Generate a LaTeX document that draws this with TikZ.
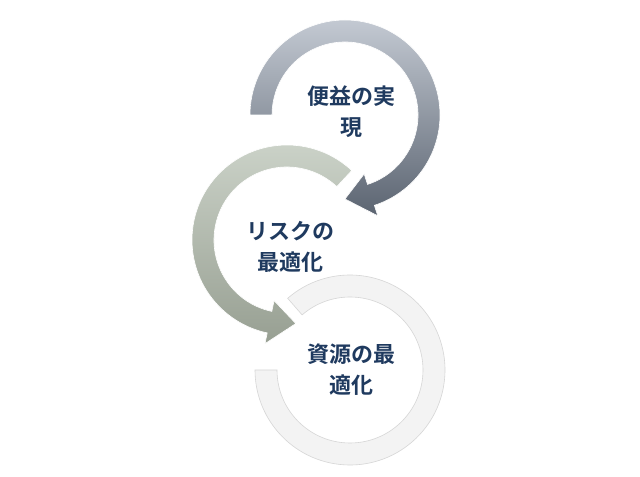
\documentclass[tikz,border=0pt]{standalone}
\usepackage{fontspec}
\newfontfamily\cjk{Noto Sans CJK JP}[BoldFont={Noto Sans CJK JP Bold}]
\definecolor{txt}{HTML}{1F3A5F}
\definecolor{aTop}{HTML}{C3C9D2}
\definecolor{aBot}{HTML}{5B6471}
\definecolor{bTop}{HTML}{CDD4CA}
\definecolor{bBot}{HTML}{979F92}
\definecolor{cFill}{HTML}{F3F3F3}
\definecolor{cEdge}{HTML}{D6D6D6}
\tikzset{lbl/.style={font=\cjk\bfseries\fontsize{22}{31}\selectfont, text=txt, align=center}}
% #1 center name, #2 start, #3 end (base), #4 tip angle, #5 style
\newcommand{\myring}[5]{%
  \path[#5] ([shift={(#2:95pt)}]#1) arc[start angle=#2, end angle=#3, radius=95pt]
    -- ([shift={(#3:106pt)}]#1) -- ([shift={(#4:84pt)}]#1) -- ([shift={(#3:62pt)}]#1)
    -- ([shift={(#3:73pt)}]#1) arc[start angle=#3, end angle=#2, radius=73pt] -- cycle;}
\begin{document}
\begin{tikzpicture}[x=1pt,y=1pt]
\fill[white] (0,0) rectangle (640,474);
\coordinate (c1) at (345,359);
\coordinate (c2) at (287,234);
\coordinate (c3) at (350,104);
% ring 3
\path[fill=cFill, draw=cEdge, line width=0.6pt]
  ([shift={(131:95pt)}]c3) arc[start angle=131, end angle=-180, radius=95pt]
  -- ([shift={(180:73pt)}]c3) arc[start angle=-180, end angle=131, radius=73pt] -- cycle;
% ring 2
\myring{c2}{47}{258}{276}{top color=bTop, bottom color=bBot, draw=white, line width=0.6pt}
% ring 1
\myring{c1}{180}{-72}{-90}{top color=aTop, bottom color=aBot, draw=white, line width=0.6pt}
\node[lbl] (t1) at (351,362) {便益の実\\現};
\node[lbl] (t2) at (290,227) {リスクの\\最適化};
\node[lbl] (t3) at (351,104) {資源の最\\適化};
\end{tikzpicture}
\end{document}
